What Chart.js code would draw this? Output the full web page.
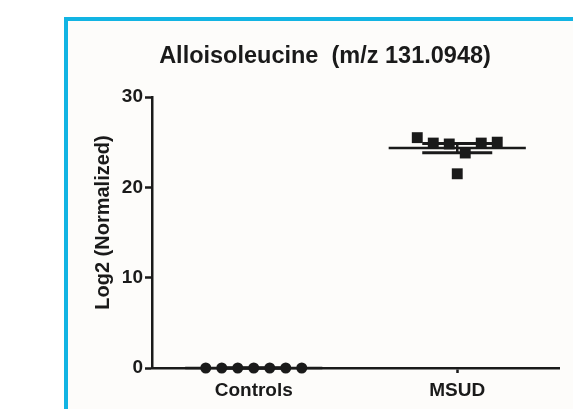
<!DOCTYPE html>
<html>
<head>
<meta charset="utf-8">
<script src="https://cdn.jsdelivr.net/npm/chart.js@4.4.0/dist/chart.umd.min.js"></script>
<style>
  html, body { margin: 0; padding: 0; background: #fff; overflow: hidden; width: 573px; height: 409px; }
  #frame { position: absolute; left: 64px; top: 17px; right: -10px; bottom: -10px;
           border-left: 4px solid #12b4e3; border-top: 4px solid #12b4e3; background: #fdfcfa; }
  #wrap { position: absolute; left: 91px; top: 0; width: 490px; height: 409px; }
</style>
</head>
<body>
<div id="frame"></div>
<div id="wrap"><canvas id="myChart" width="490" height="409"></canvas></div>
<script>
// data
const categories = ['Controls', 'MSUD'];
const controlsValues = [0, 0, 0, 0, 0, 0, 0];
const msudValues = [25.5, 24.9, 24.8, 23.8, 24.9, 25.0, 21.5];
const yTicks = [0, 10, 20, 30];

const ink = '#1a1a1a';
const fontFamily = '"Liberation Sans", Arial, sans-serif';

// spread points of similar value side by side (column scatter)
function jitter(vals, step) {
  const order = vals.map((v, i) => i).sort((a, b) => vals[a] - vals[b]);
  const offs = new Array(vals.length).fill(0);
  let group = [];
  const flush = () => {
    group.sort((a, b) => a - b);
    group.forEach((idx, k) => { offs[idx] = (k - (group.length - 1) / 2) * step; });
    group = [];
  };
  order.forEach(i => {
    if (group.length && vals[i] - vals[group[0]] > 2) flush();
    group.push(i);
  });
  flush();
  return offs;
}

function stats(vals) {
  const n = vals.length;
  const mean = vals.reduce((a, b) => a + b, 0) / n;
  const sd = Math.sqrt(vals.reduce((a, b) => a + (b - mean) ** 2, 0) / (n - 1));
  return { mean, sem: sd / Math.sqrt(n) };
}

const groups = [
  { values: controlsValues, style: 'circle', radius: 5.5 },
  { values: msudValues, style: 'rect', radius: 7.7 }
];

const datasets = [];
groups.forEach((g, gi) => {
  const c = gi + 1;
  const offs = jitter(g.values, 0.0786);
  datasets.push({
    type: 'scatter',
    data: g.values.map((v, i) => ({ x: c + offs[i], y: v })),
    pointStyle: g.style,
    pointRadius: g.radius,
    pointHoverRadius: g.radius,
    pointBorderWidth: 0,
    backgroundColor: ink,
    borderColor: ink,
    clip: false
  });
  const s = stats(g.values);
  const seg = (x0, y0, x1, y1, w) => datasets.push({
    type: 'line',
    data: [{ x: x0, y: y0 }, { x: x1, y: y1 }],
    borderColor: ink,
    borderWidth: w,
    pointRadius: 0,
    clip: false
  });
  seg(c - 0.337, s.mean, c + 0.337, s.mean, 2.5);
  seg(c, s.mean - s.sem, c, s.mean + s.sem, 2.5);
  seg(c - 0.172, s.mean - s.sem, c + 0.172, s.mean - s.sem, 3);
  seg(c - 0.172, s.mean + s.sem, c + 0.172, s.mean + s.sem, 3);
});

const yTitlePlugin = {
  id: 'yTitle',
  afterDraw(chart) {
    const { ctx, chartArea } = chart;
    ctx.save();
    ctx.translate(chartArea.left - 49, (chartArea.top + chartArea.bottom) / 2 - 10);
    ctx.rotate(-Math.PI / 2);
    ctx.font = 'bold 20px ' + fontFamily;
    ctx.fillStyle = ink;
    ctx.textAlign = 'center';
    ctx.textBaseline = 'middle';
    ctx.fillText('Log2 (Normalized)', 0, 0);
    ctx.restore();
  }
};

new Chart('myChart', {
  type: 'scatter',
  data: { datasets },
  plugins: [yTitlePlugin],
  options: {
    responsive: false,
    animation: false,
    layout: { padding: { left: 0, right: 22, top: 0, bottom: 0 } },
    plugins: {
      legend: { display: false },
      tooltip: { enabled: false },
      title: {
        display: true,
        text: 'Alloisoleucine  (m/z 131.0948)',
        color: ink,
        font: { family: fontFamily, size: 23.5, weight: 'bold' },
        padding: { top: 42.9, bottom: 25.9 }
      }
    },
    scales: {
      x: {
        type: 'linear',
        min: 0.5,
        max: 2.5,
        afterBuildTicks(s) { s.ticks = categories.map((c, i) => ({ value: i + 1 })); },
        afterFit(s) { s.height = 41; },
        ticks: {
          callback: v => categories[Math.round(v) - 1],
          color: ink,
          padding: 6,
          font: { family: fontFamily, size: 19, weight: 'bold' }
        },
        grid: { drawOnChartArea: false, drawTicks: true, tickLength: 5, tickWidth: 2.5, tickColor: ink },
        border: { display: true, color: ink, width: 2.5 }
      },
      y: {
        type: 'linear',
        min: 0,
        max: 30,
        afterBuildTicks(s) { s.ticks = yTicks.map(v => ({ value: v })); },
        afterFit(s) { s.width = 61; },
        ticks: {
          color: ink,
          padding: 2,
          font: { family: fontFamily, size: 19, weight: 'bold' }
        },
        grid: { drawOnChartArea: false, drawTicks: true, tickLength: 7, tickWidth: 2.5, tickColor: ink },
        border: { display: true, color: ink, width: 2.5 }
      }
    }
  }
});
</script>
</body>
</html>
